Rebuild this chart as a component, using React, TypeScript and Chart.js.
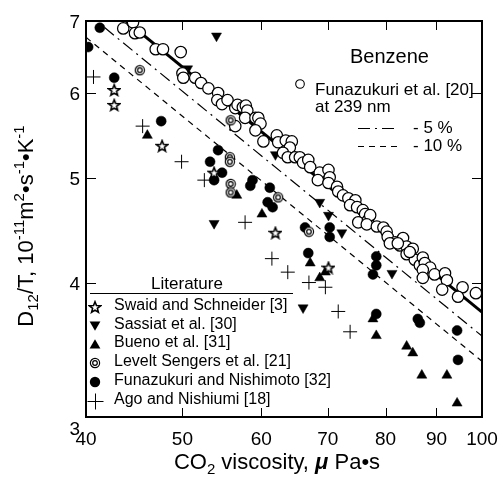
import React, { useEffect, useRef } from 'react';
import { Chart, registerables } from 'chart.js';

Chart.register(...registerables);

const FONT = '"Liberation Sans", Arial, Helvetica, sans-serif';

// Axis tick values (log-log plot)
const xTickValues = [40, 50, 60, 70, 80, 90, 100];
const yTickValues = [3, 4, 5, 6, 7];

// Funazukuri et al. [20] at 239 nm (open circles)
const funa20X = [43.6, 44.6, 44.8, 45.3, 47.0, 47.8, 49.8, 50.0, 50.1, 51.5, 52.2, 53.1, 54.3, 54.2, 54.8, 55.5, 56.5, 56.8, 57.5, 57.9, 58.1, 57.8, 56.5, 59.2, 59.6, 59.9, 59.2, 60.3, 62.2, 62.4, 63.5, 64.4, 64.1, 63.1, 63.8, 64.9, 65.6, 66.1, 66.9, 67.2, 68.7, 68.4, 70.1, 70.3, 70.1, 71.5, 71.7, 72.5, 73.4, 74.6, 73.7, 74.9, 75.9, 76.3, 75.1, 76.8, 77.2, 76.6, 78.4, 79.6, 80.2, 80.4, 81.8, 82.7, 83.3, 84.0, 85.2, 84.0, 85.6, 86.6, 87.2, 87.6, 88.7, 87.2, 89.6, 87.2, 91.8, 92.2, 91.2, 95.6, 94.6, 98.6, 84.6, 80.8, 82.3];
const funa20Y = [6.89, 6.98, 6.82, 6.83, 6.59, 6.59, 6.55, 6.26, 6.20, 6.20, 6.13, 6.06, 6.00, 5.91, 5.86, 5.91, 5.81, 5.85, 5.82, 5.84, 5.78, 5.69, 5.59, 5.69, 5.69, 5.62, 5.54, 5.41, 5.48, 5.40, 5.42, 5.41, 5.34, 5.28, 5.23, 5.23, 5.23, 5.17, 5.20, 5.12, 5.06, 4.98, 5.09, 5.01, 4.95, 4.91, 4.86, 4.82, 4.79, 4.77, 4.72, 4.70, 4.67, 4.63, 4.55, 4.57, 4.62, 4.53, 4.51, 4.50, 4.46, 4.41, 4.36, 4.33, 4.40, 4.32, 4.30, 4.25, 4.20, 4.15, 4.22, 4.17, 4.13, 4.11, 4.07, 4.04, 4.08, 4.02, 3.94, 3.96, 3.88, 3.91, 4.27, 4.35, 4.35];

// Swaid and Schneider [3] (open stars)
const swaidX = [42.7, 42.7, 47.7, 53.8, 62.0, 70.1];
const swaidY = [6.04, 5.85, 5.36, 5.06, 4.45, 4.13];

// Sassiat et al. [30] (filled down triangles)
const sassiatX = [54.1, 50.6, 53.8, 62.0, 68.7, 70.1, 72.3, 81.2, 66.1];
const sassiatY = [6.78, 6.32, 4.54, 5.26, 4.75, 4.62, 4.45, 4.08, 3.79];

// Bueno et al. [31] (filled up triangles)
const buenoX = [46.1, 56.7, 60.1, 67.2, 68.7, 69.6, 77.7, 78.3, 84.0, 85.2, 87.0, 92.2, 94.4];
const buenoY = [5.48, 4.82, 4.63, 4.17, 4.04, 4.09, 3.70, 3.57, 3.49, 3.44, 3.28, 3.28, 3.09];

// Levelt Sengers et al. [21] (double circles)
const leveltX = [45.3, 55.9, 55.8, 55.8, 55.9, 55.9, 62.4, 67.0];
const leveltY = [6.30, 5.66, 5.23, 5.18, 4.94, 4.85, 4.80, 4.46];

// Funazukuri and Nishimoto [32] (filled circles)
const funaNishiX = [40.2, 41.3, 42.7, 47.6, 53.3, 54.3, 54.8, 53.8, 58.8, 58.5, 61.2, 60.9, 61.6, 66.4, 66.9, 70.3, 70.3, 78.3, 78.3, 77.7, 78.3, 86.2, 86.6, 94.4, 94.6];
const funaNishiY = [6.62, 6.90, 6.20, 5.65, 5.18, 5.31, 5.06, 4.98, 4.98, 4.92, 4.90, 4.75, 4.70, 4.50, 4.26, 4.50, 4.41, 4.23, 4.15, 4.07, 3.74, 3.70, 3.67, 3.61, 3.39];

// Ago and Nishiumi [18] (plus)
const agoX = [40.7, 45.6, 49.9, 52.6, 57.8, 61.5, 63.8, 67.0, 69.6, 71.7, 73.7];
const agoY = [6.21, 5.59, 5.18, 4.98, 4.55, 4.21, 4.09, 4.00, 3.96, 3.76, 3.60];

// Correlation line and -5 % / -10 % lines
const fitX = [40, 100];
const fitY = [7.51, 3.755];
const fit5Y = [7.13, 3.567];
const fit10Y = [6.76, 3.38];

const zip = (xs: number[], ys: number[]) => xs.map((x, i) => ({ x, y: ys[i] }));

function makeCanvas(w: number, h: number, draw: (g: CanvasRenderingContext2D, cx: number, cy: number) => void) {
  const c = document.createElement('canvas');
  c.width = w;
  c.height = h;
  const g = c.getContext('2d') as CanvasRenderingContext2D;
  draw(g, w / 2, h / 2);
  return c;
}

function buildMarkers() {
  const smallCircle = makeCanvas(12, 12, (g, cx, cy) => {
    g.beginPath();
    g.arc(cx, cy, 4.3, 0, Math.PI * 2);
    g.fillStyle = '#fff';
    g.fill();
    g.lineWidth = 1.1;
    g.strokeStyle = '#000';
    g.stroke();
  });
  const filledCircle = makeCanvas(12, 12, (g, cx, cy) => {
    g.beginPath();
    g.arc(cx, cy, 5.2, 0, Math.PI * 2);
    g.fillStyle = '#000';
    g.fill();
  });
  const upTri = makeCanvas(12, 12, (g) => {
    g.beginPath();
    g.moveTo(6, 1.2);
    g.lineTo(11.4, 10.6);
    g.lineTo(0.6, 10.6);
    g.closePath();
    g.fillStyle = '#000';
    g.fill();
  });
  const downTri = makeCanvas(12, 12, (g) => {
    g.beginPath();
    g.moveTo(6, 10.8);
    g.lineTo(11.4, 1.4);
    g.lineTo(0.6, 1.4);
    g.closePath();
    g.fillStyle = '#000';
    g.fill();
  });
  const star = makeCanvas(14, 14, (g, cx, cy) => {
    g.beginPath();
    for (let i = 0; i < 10; i++) {
      const a = -Math.PI / 2 + (i * Math.PI) / 5;
      const r = i % 2 === 0 ? 5.8 : 2.5;
      const px = cx + r * Math.cos(a);
      const py = cy + 0.6 + r * Math.sin(a);
      if (i === 0) g.moveTo(px, py);
      else g.lineTo(px, py);
    }
    g.closePath();
    g.fillStyle = '#fff';
    g.fill();
    g.lineWidth = 1.6;
    g.lineJoin = 'miter';
    g.strokeStyle = '#000';
    g.stroke();
  });
  const ring = makeCanvas(12, 12, (g, cx, cy) => {
    g.beginPath();
    g.arc(cx, cy, 4.6, 0, Math.PI * 2);
    g.fillStyle = '#fff';
    g.fill();
    g.lineWidth = 1.2;
    g.strokeStyle = '#000';
    g.stroke();
    g.beginPath();
    g.arc(cx, cy, 2.3, 0, Math.PI * 2);
    g.stroke();
  });
  const plus = makeCanvas(17, 17, (g) => {
    g.beginPath();
    g.moveTo(0.5, 8.5);
    g.lineTo(16.5, 8.5);
    g.moveTo(8.5, 0.5);
    g.lineTo(8.5, 16.5);
    g.lineWidth = 1;
    g.strokeStyle = '#000';
    g.stroke();
  });
  return { smallCircle, filledCircle, upTri, downTri, star, ring, plus };
}

type Run = { t: string; size: number; dy: number; style?: string };

function drawRuns(ctx: CanvasRenderingContext2D, runs: Run[], cx: number, baseline: number) {
  const widths = runs.map((r) => {
    ctx.font = `${r.style || ''} ${r.size}px ${FONT}`;
    return ctx.measureText(r.t).width;
  });
  const total = widths.reduce((a, b) => a + b, 0);
  let x = cx - total / 2;
  ctx.textAlign = 'left';
  ctx.textBaseline = 'alphabetic';
  runs.forEach((r, i) => {
    ctx.font = `${r.style || ''} ${r.size}px ${FONT}`;
    ctx.fillText(r.t, x, baseline + r.dy);
    x += widths[i];
  });
}

export default function App() {
  const ref = useRef<HTMLCanvasElement>(null);

  useEffect(() => {
    if (!ref.current) return;
    const m = buildMarkers();

    const decor = {
      id: 'decor',
      afterDraw(chart: any) {
        const { ctx, chartArea } = chart;
        const { left, right, top, bottom } = chartArea;
        const xs = chart.scales.x;
        const ys = chart.scales.y;
        ctx.save();
        ctx.strokeStyle = '#000';
        ctx.fillStyle = '#000';

        // inward ticks on all four sides
        ctx.lineWidth = 1;
        ctx.beginPath();
        xs.ticks.forEach((t: any) => {
          const px = Math.round(xs.getPixelForValue(t.value)) + 0.5;
          ctx.moveTo(px, bottom);
          ctx.lineTo(px, bottom - 9);
          ctx.moveTo(px, top);
          ctx.lineTo(px, top + 9);
        });
        ys.ticks.forEach((t: any) => {
          const py = Math.round(ys.getPixelForValue(t.value)) + 0.5;
          ctx.moveTo(left, py);
          ctx.lineTo(left + 10, py);
          ctx.moveTo(right, py);
          ctx.lineTo(right - 10, py);
        });
        ctx.stroke();

        // frame
        ctx.lineWidth = 2;
        ctx.strokeRect(left, top, right - left, bottom - top);

        // tick labels
        ctx.font = `19px ${FONT}`;
        ctx.textBaseline = 'alphabetic';
        ctx.textAlign = 'center';
        xs.ticks.forEach((t: any) => {
          ctx.fillText(String(t.value), xs.getPixelForValue(t.value), bottom + 28);
        });
        ctx.textAlign = 'right';
        ys.ticks.forEach((t: any) => {
          const py = ys.getPixelForValue(t.value);
          const isMin = t.value === ys.min;
          ctx.fillText(String(t.value), left - 6, isMin ? bottom + 18 : py + 7);
        });

        // x title
        drawRuns(
          ctx,
          [
            { t: 'CO', size: 22, dy: 0 },
            { t: '2', size: 15, dy: 5 },
            { t: ' viscosity, ', size: 22, dy: 0 },
            { t: 'μ', size: 22, dy: 0, style: 'italic bold' },
            { t: ' Pa•s', size: 22, dy: 0 },
          ],
          277,
          469
        );

        // y title (rotated)
        ctx.save();
        ctx.translate(33, 226);
        ctx.rotate(-Math.PI / 2);
        drawRuns(
          ctx,
          [
            { t: 'D', size: 22, dy: 0 },
            { t: '12', size: 15, dy: 5 },
            { t: '/T, 10', size: 22, dy: 0 },
            { t: '-11', size: 15, dy: -9 },
            { t: 'm', size: 22, dy: 0 },
            { t: '2', size: 15, dy: -9 },
            { t: '•s', size: 22, dy: 0 },
            { t: '-1', size: 15, dy: -9 },
            { t: '•K', size: 22, dy: 0 },
            { t: '-1', size: 15, dy: -9 },
          ],
          0,
          0
        );
        ctx.restore();

        // Benzene legend
        ctx.textAlign = 'left';
        ctx.font = `20px ${FONT}`;
        ctx.fillText('Benzene', 350, 63);
        ctx.drawImage(m.smallCircle, 300 - 6, 84 - 6);
        ctx.font = `17px ${FONT}`;
        ctx.fillText('Funazukuri et al. [20]', 315, 95);
        ctx.fillText('at 239 nm', 315, 112);
        ctx.fillText('- 5 %', 413, 133);
        ctx.fillText('- 10 %', 413, 151);
        ctx.lineWidth = 1.2;
        ctx.setLineDash([12, 5, 2, 5]);
        ctx.beginPath();
        ctx.moveTo(358, 128.5);
        ctx.lineTo(397, 128.5);
        ctx.stroke();
        ctx.setLineDash([6, 5]);
        ctx.beginPath();
        ctx.moveTo(358, 146.5);
        ctx.lineTo(397, 146.5);
        ctx.stroke();
        ctx.setLineDash([]);

        // Literature legend
        ctx.font = `17px ${FONT}`;
        ctx.textAlign = 'center';
        ctx.fillText('Literature', 187, 289);
        ctx.lineWidth = 1.2;
        ctx.beginPath();
        ctx.moveTo(90, 293.5);
        ctx.lineTo(293, 293.5);
        ctx.stroke();
        const entries: [HTMLCanvasElement, string][] = [
          [m.star, 'Swaid and Schneider [3]'],
          [m.downTri, 'Sassiat et al. [30]'],
          [m.upTri, 'Bueno et al. [31]'],
          [m.ring, 'Levelt Sengers et al. [21]'],
          [m.filledCircle, 'Funazukuri and Nishimoto [32]'],
          [m.plus, 'Ago and Nishiumi [18]'],
        ];
        ctx.textAlign = 'left';
        ctx.font = `16px ${FONT}`;
        entries.forEach(([img, label], i) => {
          const base = Math.round(310 + i * 18.7);
          ctx.drawImage(img, Math.round(95 - img.width / 2), Math.round(base - 3 - img.height / 2));
          ctx.fillText(label, 114, base);
        });

        ctx.restore();
      },
    };

    const imgPts = (img: HTMLCanvasElement) => ({
      pointStyle: img,
      pointRadius: 6,
      pointHoverRadius: 6,
      showLine: false,
    });

    const chart = new Chart(ref.current, {
      type: 'scatter',
      data: {
        datasets: [
          { label: 'Levelt Sengers et al. [21]', data: zip(leveltX, leveltY), ...imgPts(m.ring) },
          { label: 'Swaid and Schneider [3]', data: zip(swaidX, swaidY), ...imgPts(m.star) },
          {
            label: 'Ago and Nishiumi [18]',
            data: zip(agoX, agoY),
            pointStyle: 'cross',
            pointRadius: 7,
            borderColor: '#000',
            borderWidth: 1,
            showLine: false,
          },
          {
            label: 'Funazukuri and Nishimoto [32]',
            data: zip(funaNishiX, funaNishiY),
            pointStyle: 'circle',
            pointRadius: 5,
            backgroundColor: '#000',
            borderColor: '#000',
            borderWidth: 0.5,
            showLine: false,
          },
          {
            label: 'Bueno et al. [31]',
            data: zip(buenoX, buenoY),
            pointStyle: 'triangle',
            pointRadius: 5.8,
            backgroundColor: '#000',
            borderColor: '#000',
            borderWidth: 0.5,
            showLine: false,
          },
          {
            label: 'Funazukuri et al. [20]',
            data: zip(funa20X, funa20Y),
            pointStyle: 'circle',
            pointRadius: 5.7,
            backgroundColor: '#fff',
            borderColor: '#000',
            borderWidth: 1.25,
            showLine: false,
          },
          {
            label: 'Sassiat et al. [30]',
            data: zip(sassiatX, sassiatY),
            pointStyle: 'triangle',
            pointRotation: 180,
            pointRadius: 5.8,
            backgroundColor: '#000',
            borderColor: '#000',
            borderWidth: 0.5,
            showLine: false,
          },
          {
            label: 'fit',
            data: zip(fitX, fitY),
            showLine: true,
            pointRadius: 0,
            borderColor: '#000',
            borderWidth: 3,
          },
          {
            label: '-5 %',
            data: zip(fitX, fit5Y),
            showLine: true,
            pointRadius: 0,
            borderColor: '#000',
            borderWidth: 1.2,
            borderDash: [12, 5, 2, 5],
          },
          {
            label: '-10 %',
            data: zip(fitX, fit10Y),
            showLine: true,
            pointRadius: 0,
            borderColor: '#000',
            borderWidth: 1.2,
            borderDash: [6, 5],
          },
        ] as any,
      },
      options: {
        animation: false,
        responsive: false,
        devicePixelRatio: 1,
        layout: { padding: { left: 86, right: 20, top: 21, bottom: 60 } },
        plugins: { legend: { display: false }, tooltip: { enabled: false } },
        events: [],
        scales: {
          x: {
            type: 'logarithmic',
            min: 40,
            max: 100,
            display: false,
            afterBuildTicks: (s: any) => {
              s.ticks = xTickValues.map((v) => ({ value: v }));
            },
          },
          y: {
            type: 'logarithmic',
            min: 3,
            max: 7,
            display: false,
            afterBuildTicks: (s: any) => {
              s.ticks = yTickValues.map((v) => ({ value: v }));
            },
          },
        },
      } as any,
      plugins: [decor],
    });

    return () => chart.destroy();
  }, []);

  return (
    <div style={{ position: 'fixed', left: 0, top: 0, width: 502, height: 477, background: '#fff' }}>
      <canvas ref={ref} width={502} height={477} style={{ display: 'block' }} />
    </div>
  );
}
